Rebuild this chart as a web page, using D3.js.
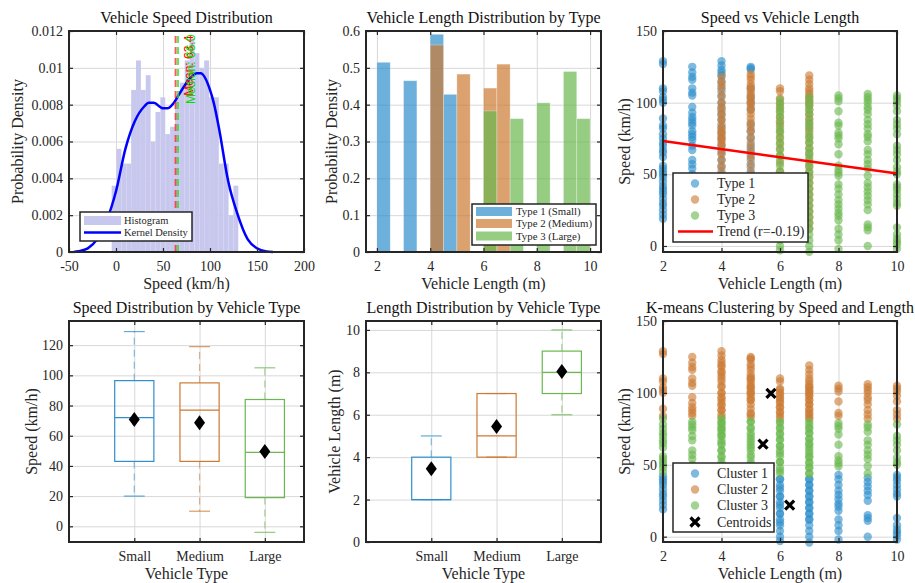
<!DOCTYPE html>
<html><head><meta charset="utf-8">
<script src="https://cdn.jsdelivr.net/npm/d3@7"></script>
<style>
body{margin:0;background:#fff;}
svg{display:block;}
</style>
</head><body>
<svg id="c" width="915" height="583"></svg>
<script>
// ---------------- DATA ----------------
// Panel 1: speed histogram (density) + kernel density
const speedHistStart = -4.6;
const speedHistBinWidth = 5.18;
const speedHistDensity = [0.0036,0.0056,0.0048,0.0048,0.0088,0.0104,0.0088,0.0096,0.0060,0.0076,0.0084,0.0064,0.0068,0.0084,0.0092,0.0104,0.0116,0.0108,0.0100,0.0104,0.0084,0.0084,0.0048,0.0048,0.0020,0.0036];
const kdeSpeed   = [-45,-40,-30,-20,-10,0,10,20,30,35,40,50,55,60,70,80,86,90,100,104,110,118,120,129,140,150,160,167];
const kdeDensity = [0,0.00004,0.0002,0.0007,0.0017,0.0033,0.0056,0.0071,0.0079,0.0081,0.0081,0.0078,0.0078,0.0080,0.0088,0.0095,0.0097,0.0097,0.0088,0.0081,0.0066,0.0042,0.0037,0.0021,0.0007,0.0002,0.00003,0];
const speedMean = 63.4, speedMedian = 66.0;

// Panel 2: vehicle length histograms by type
const lengthBinWidth = 0.5;
const type1BinStarts = [2,3,4,4.5];      const type1Density = [0.515,0.465,0.591,0.428];
const type2BinStarts = [4,5,6,6.5];      const type2Density = [0.562,0.483,0.445,0.510];
const type3BinStarts = [6,7,8,9,9.5];    const type3Density = [0.383,0.362,0.405,0.490,0.362];

// Panels 3 & 6: speed vs length (per type, per length)
const type1Lengths = [2,3,4,5];
const type1Speeds = [
  [129,127,110,108,104,102,100,89,84,82,78,75,72,70,67,65,62,56,54,52,50,48,45,42,40,38,36,33,30,28,25,22,19],
  [125,121,118,116,110,107,105,97,93,90,88,86,84,80,78,76,74,70,67,60,57,54,50,47,43,38,33,28,24,21],
  [129,126,123,121,119,115,110,105,100,96,92,88,83,79,75,70,65,60,55,50,45,40,35,30,25,21],
  [125,124,123,110,104,100,95,85,80,75,70,66,62,57,52,48,44,40,35,30,25,22]
];
const type2Lengths = [4,5,6,7];
const type2Speeds = [
  [118,114,112,108,104,100,97,94,91,88,85,82,80,78,76,74,72,70,67,64,60,56,52,48,44,40,35,30,25,20,15,12],
  [120,118,116,113,111,109,107,105,103,101,99,97,95,92,89,86,83,80,76,72,68,64,60,55,50,45,40,35,28,20,14],
  [110,108,103,100,97,94,90,87,84,80,76,72,68,63,58,52,46,40,34,28,22,16,10],
  [119,116,113,110,108,106,104,102,100,98,95,92,89,86,83,80,76,72,68,64,60,56,52,48,44,40,36,32,28,24,20,16,12]
];
const type3Lengths = [6,7,8,9,10];
const type3Speeds = [
  [102,99,96,93,90,86,82,79,75,71,67,63,60,56,52,48,44,40,36,32,28,24,20,16,12,8,4,0,-3],
  [104,101,98,95,92,88,85,82,78,75,72,68,65,62,58,55,51,48,44,40,36,32,28,24,20,16,12,8,4,0,-4],
  [105,103,101,94,86,84,79,77,75,71,64,56,53,51,49,43,40,36,32,29,26,23,21,18,12,8,4,-2],
  [106,104,102,100,97,95,92,88,85,82,78,76,73,67,64,60,57,54,49,44,41,38,35,32,29,25,15,13,11,0],
  [105,103,101,98,94,88,85,82,78,70,67,64,60,55,52,50,43,41,39,36,33,30,28,13,8,5,3,1,-2]
];
const trendLength = [2,10];
const trendSpeed  = [73.2,50.5];
const trendR = -0.19;
// K-means centroids (cluster 1,2,3)
const centroidLength = [6.33,5.69,5.42];
const centroidSpeed  = [22.0,99.7,64.3];

// Panels 4 & 5: box plots
const boxCategories = ["Small","Medium","Large"];
const speedQ1 = [43,43,19],  speedMed = [72,77,49],  speedQ3 = [96.5,95,84];
const speedWLo = [20,10,-4], speedWHi = [129,119,105], speedMeans = [70.8,68.6,49.6];
const lenQ1 = [2,4,7], lenMed = [2,5,8], lenQ3 = [4,7,9];
const lenWLo = [2,4,6], lenWHi = [5,7,10], lenMeans = [3.45,5.45,8.04];

// ---------------- DRAWING ----------------
const svg = d3.select("#c");
const COL = {blue:"#2E8FCC", orange:"#CC7A33", green:"#6AB84F"};
const typeCols = [COL.blue, COL.orange, COL.green];
const SERIF = "'Liberation Serif','Times New Roman',serif";
const SANS = "'Liberation Sans',Arial,sans-serif";
const INK = "#262626";

function makePanel(b, xd, yd, xt, yt, xfmt, yfmt){
  const x = d3.scaleLinear().domain(xd).range([b.l,b.r]);
  const y = d3.scaleLinear().domain(yd).range([b.b,b.t]);
  const g = svg.append("g");
  const w=b.r-b.l, h=b.b-b.t;
  g.append("g").attr("transform",`translate(0,${b.b})`)
    .call(d3.axisBottom(x).tickValues(xt).tickSize(-h).tickFormat(""))
    .call(s=>{s.select(".domain").remove(); s.selectAll("line").attr("stroke","#d8d8d8").attr("stroke-width",1);});
  g.append("g").attr("transform",`translate(${b.l},0)`)
    .call(d3.axisLeft(y).tickValues(yt).tickSize(-w).tickFormat(""))
    .call(s=>{s.select(".domain").remove(); s.selectAll("line").attr("stroke","#d8d8d8").attr("stroke-width",1);});
  const content = g.append("g");
  return {x,y,g,content,b,xt,yt,xfmt,yfmt};
}
function styleAxis(s){
  s.select(".domain").remove();
  s.selectAll("line").attr("stroke",INK).attr("stroke-width",1.2);
  s.selectAll("text").style("font-family",SERIF).style("font-size","14px").attr("fill",INK);
}
function finishPanel(p, title, xlabel, ylabel, ylabOff){
  const {x,y,g,b}=p;
  const top = g.append("g");
  top.append("rect").attr("x",b.l).attr("y",b.t).attr("width",b.r-b.l).attr("height",b.b-b.t)
    .attr("fill","none").attr("stroke",INK).attr("stroke-width",2);
  top.append("g").attr("transform",`translate(0,${b.b})`)
    .call(d3.axisBottom(x).tickValues(p.xt).tickSize(-4).tickPadding(9).tickFormat(p.xfmt)).call(styleAxis);
  top.append("g").attr("transform",`translate(0,${b.t})`)
    .call(d3.axisTop(x).tickValues(p.xt).tickSize(-4).tickFormat("")).call(styleAxis);
  top.append("g").attr("transform",`translate(${b.l},0)`)
    .call(d3.axisLeft(y).tickValues(p.yt).tickSize(-4).tickPadding(6).tickFormat(p.yfmt)).call(styleAxis);
  top.append("g").attr("transform",`translate(${b.r},0)`)
    .call(d3.axisRight(y).tickValues(p.yt).tickSize(-4).tickFormat("")).call(styleAxis);
  const cx=(b.l+b.r)/2, cy=(b.t+b.b)/2;
  top.append("text").attr("x",cx).attr("y",b.t-8).attr("text-anchor","middle")
    .style("font-family",SERIF).style("font-size","16px").attr("fill","#111").text(title);
  top.append("text").attr("x",cx).attr("y",b.b+37).attr("text-anchor","middle")
    .style("font-family",SERIF).style("font-size","16px").attr("fill",INK).text(xlabel);
  top.append("text").attr("transform",`translate(${b.l-ylabOff},${cy}) rotate(-90)`).attr("text-anchor","middle")
    .style("font-family",SERIF).style("font-size","16px").attr("fill",INK).text(ylabel);
}
function legendBox(g, x0,y0,x1,y1){
  g.append("rect").attr("x",x0).attr("y",y0).attr("width",x1-x0).attr("height",y1-y0)
    .attr("fill","#fff").attr("stroke",INK).attr("stroke-width",1.5);
}
function legText(g,x,y,t,size){
  g.append("text").attr("x",x).attr("y",y).attr("dy","0.35em")
    .style("font-family",SERIF).style("font-size",size+"px").attr("fill",INK).text(t);
}

// ===== Panel 1 =====
{
  const p = makePanel({l:69,r:304,t:31,b:252},[-50,200],[0,0.012],
    [-50,0,50,100,150,200],[0,0.002,0.004,0.006,0.008,0.01,0.012],
    d=>String(d), d=>String(+d.toFixed(3)));
  const {x,y,content}=p;
  content.selectAll("rect.h").data(speedHistDensity).join("rect")
    .attr("x",(d,i)=>x(speedHistStart+i*speedHistBinWidth))
    .attr("width",(d,i)=>x(speedHistStart+(i+1)*speedHistBinWidth)-x(speedHistStart+i*speedHistBinWidth))
    .attr("y",d=>y(d)).attr("height",d=>y(0)-y(d)).attr("fill","#C8C8EE");
  const kde = kdeSpeed.map((s,i)=>[s,kdeDensity[i]]);
  content.append("path").datum(kde)
    .attr("d",d3.line().x(d=>x(d[0])).y(d=>y(d[1])).curve(d3.curveMonotoneX))
    .attr("fill","none").attr("stroke","#0000FF").attr("stroke-width",2.5);
  content.append("line").attr("x1",x(speedMean)).attr("x2",x(speedMean)).attr("y1",y(0)).attr("y2",y(0.012))
    .attr("stroke","#FF2020").attr("stroke-opacity",0.75).attr("stroke-width",2).attr("stroke-dasharray","7,4");
  content.append("line").attr("x1",x(speedMedian)).attr("x2",x(speedMedian)).attr("y1",y(0)).attr("y2",y(0.012))
    .attr("stroke","#20E020").attr("stroke-opacity",0.75).attr("stroke-width",2).attr("stroke-dasharray","7,4");
  content.append("text").attr("transform",`translate(${x(speedMean)+17.5},${y(0.01175)}) rotate(-90)`)
    .attr("text-anchor","end").style("font-family",SANS).style("font-size","12px").attr("fill","#FF0000")
    .text(`Mean: ${speedMean.toFixed(1)}`);
  content.append("text").attr("transform",`translate(${x(speedMedian)+17},${y(0.0118)}) rotate(-90)`)
    .attr("text-anchor","end").style("font-family",SANS).style("font-size","12px").attr("fill","#00DD00")
    .text(`Median: ${speedMedian.toFixed(1)}`);
  finishPanel(p,"Vehicle Speed Distribution","Speed (km/h)","Probability Density",46);
  const lg = p.g.append("g");
  legendBox(lg,80,212,192,241);
  lg.append("rect").attr("x",84).attr("y",216).attr("width",37).attr("height",9).attr("fill","#C8C8EE");
  lg.append("line").attr("x1",84).attr("x2",121).attr("y1",232.5).attr("y2",232.5).attr("stroke","#0000FF").attr("stroke-width",2.5);
  legText(lg,124,220.5,"Histogram",10.5);
  legText(lg,124,232.5,"Kernel Density",10.5);
}

// ===== Panel 2 =====
{
  const p = makePanel({l:366,r:601,t:31,b:252},[1.59,10.41],[0,0.6],
    [2,4,6,8,10],[0,0.1,0.2,0.3,0.4,0.5,0.6], d=>String(d), d=>String(d));
  const {x,y,content}=p;
  const sets = [[type1BinStarts,type1Density,COL.blue],[type2BinStarts,type2Density,COL.orange],[type3BinStarts,type3Density,COL.green]];
  sets.forEach(([st,den,c])=>{
    content.append("g").selectAll("rect").data(den).join("rect")
      .attr("x",(d,i)=>x(st[i])).attr("width",(d,i)=>x(st[i]+lengthBinWidth)-x(st[i]))
      .attr("y",d=>y(d)).attr("height",d=>y(0)-y(d))
      .attr("fill",c).attr("fill-opacity",0.7).attr("stroke","#fff").attr("stroke-opacity",0.35).attr("stroke-width",0.8);
  });
  finishPanel(p,"Vehicle Length Distribution by Type","Vehicle Length (m)","Probability Density",29);
  const lg = p.g.append("g");
  legendBox(lg,472,204,596,245);
  const labs=["Type 1 (Small)","Type 2 (Medium)","Type 3 (Large)"];
  [211.5,223.5,236].forEach((yy,i)=>{
    lg.append("rect").attr("x",476).attr("y",yy-4.5).attr("width",36).attr("height",9).attr("fill",typeCols[i]).attr("fill-opacity",0.7);
    legText(lg,516,yy,labs[i],10.8);
  });
}

// scatter points (shared)
function buildPoints(lengths, speeds, type){
  const out=[];
  lengths.forEach((L,i)=>speeds[i].forEach(s=>out.push({len:L,speed:s,type})));
  return out;
}
const pts1 = buildPoints(type1Lengths,type1Speeds,0);
const pts2 = buildPoints(type2Lengths,type2Speeds,1);
const pts3 = buildPoints(type3Lengths,type3Speeds,2);
const allPts = pts1.concat(pts2,pts3);
allPts.forEach(p=>{
  let best=0,bd=Infinity;
  centroidLength.forEach((cl,k)=>{const d=(p.len-cl)**2+(p.speed-centroidSpeed[k])**2; if(d<bd){bd=d;best=k;}});
  p.cluster=best;
});
const R=4.2;

// ===== Panel 3 =====
{
  const p = makePanel({l:663,r:897,t:31,b:252},[2,10],[-4.2,150],
    [2,4,6,8,10],[0,50,100,150], d=>String(d), d=>String(d));
  const {x,y,content}=p;
  [pts1,pts2,pts3].forEach((arr,t)=>{
    content.append("g").selectAll("circle").data(arr).join("circle")
      .attr("cx",d=>x(d.len)).attr("cy",d=>y(d.speed)).attr("r",R)
      .attr("fill",typeCols[t]).attr("fill-opacity",0.62);
  });
  content.append("path").datum(trendLength.map((l,i)=>[l,trendSpeed[i]]))
    .attr("d",d3.line().x(d=>x(d[0])).y(d=>y(d[1])))
    .attr("stroke","#FF0000").attr("stroke-width",2.5).attr("fill","none");
  finishPanel(p,"Speed vs Vehicle Length","Vehicle Length (m)","Speed (km/h)",33);
  const lg = p.g.append("g");
  legendBox(lg,673,173,808,242);
  ["Type 1","Type 2","Type 3"].forEach((t,i)=>{
    const yy=183.5+i*16;
    lg.append("circle").attr("cx",695).attr("cy",yy).attr("r",R).attr("fill",typeCols[i]).attr("fill-opacity",0.62);
    legText(lg,717,yy,t,14);
  });
  lg.append("line").attr("x1",678).attr("x2",713).attr("y1",231.5).attr("y2",231.5).attr("stroke","#FF0000").attr("stroke-width",2.5);
  legText(lg,717,231.5,`Trend (r=${trendR.toFixed(2)})`,14);
}

// ===== Box plot helper =====
function drawBoxes(p, q1,med,q3,wlo,whi,means){
  const {x,y,content}=p;
  boxCategories.forEach((c,i)=>{
    const cx=i+1, col=typeCols[i];
    const g=content.append("g");
    g.append("line").attr("x1",x(cx)).attr("x2",x(cx)).attr("y1",y(q3[i])).attr("y2",y(whi[i]))
      .attr("stroke",col).attr("stroke-opacity",0.55).attr("stroke-width",1.2).attr("stroke-dasharray","7,5");
    g.append("line").attr("x1",x(cx)).attr("x2",x(cx)).attr("y1",y(q1[i])).attr("y2",y(wlo[i]))
      .attr("stroke",col).attr("stroke-opacity",0.55).attr("stroke-width",1.2).attr("stroke-dasharray","7,5");
    [wlo[i],whi[i]].forEach(v=>g.append("line").attr("x1",x(cx-0.16)).attr("x2",x(cx+0.16)).attr("y1",y(v)).attr("y2",y(v))
      .attr("stroke",col).attr("stroke-opacity",0.75).attr("stroke-width",1.2));
    g.append("rect").attr("x",x(cx-0.3)).attr("width",x(cx+0.3)-x(cx-0.3))
      .attr("y",y(q3[i])).attr("height",y(q1[i])-y(q3[i]))
      .attr("fill","none").attr("stroke",col).attr("stroke-width",1.2);
    g.append("line").attr("x1",x(cx-0.3)).attr("x2",x(cx+0.3)).attr("y1",y(med[i])).attr("y2",y(med[i]))
      .attr("stroke",col).attr("stroke-width",1.2);
    const mx=x(cx), my=y(means[i]);
    g.append("path").attr("d",`M${mx},${my-7.5}L${mx+5.5},${my}L${mx},${my+7.5}L${mx-5.5},${my}Z`).attr("fill","#000");
  });
}

// ===== Panel 4 =====
{
  const p = makePanel({l:69,r:304,t:321,b:542},[0,3.6],[-10.4,136],
    [1,2,3],[0,20,40,60,80,100,120], d=>boxCategories[d-1], d=>String(d));
  drawBoxes(p,speedQ1,speedMed,speedQ3,speedWLo,speedWHi,speedMeans);
  finishPanel(p,"Speed Distribution by Vehicle Type","Vehicle Type","Speed (km/h)",32);
}
// ===== Panel 5 =====
{
  const p = makePanel({l:366,r:601,t:321,b:542},[0,3.6],[0,10.42],
    [1,2,3],[0,2,4,6,8,10], d=>boxCategories[d-1], d=>String(d));
  drawBoxes(p,lenQ1,lenMed,lenQ3,lenWLo,lenWHi,lenMeans);
  finishPanel(p,"Length Distribution by Vehicle Type","Vehicle Type","Vehicle Length (m)",26);
}
// ===== Panel 6 =====
{
  const p = makePanel({l:663,r:897,t:321,b:542},[2,10],[-3.7,150],
    [2,4,6,8,10],[0,50,100,150], d=>String(d), d=>String(d));
  const {x,y,content}=p;
  [0,1,2].forEach(k=>{
    content.append("g").selectAll("circle").data(allPts.filter(d=>d.cluster===k)).join("circle")
      .attr("cx",d=>x(d.len)).attr("cy",d=>y(d.speed)).attr("r",R)
      .attr("fill",typeCols[k]).attr("fill-opacity",0.62);
  });
  const X = (g,cx,cy)=>g.append("path").attr("d",`M${cx-4.5},${cy-4.5}L${cx+4.5},${cy+4.5}M${cx-4.5},${cy+4.5}L${cx+4.5},${cy-4.5}`)
      .attr("stroke","#000").attr("stroke-width",3.2);
  centroidLength.forEach((cl,k)=>X(content,x(cl),y(centroidSpeed[k])));
  finishPanel(p,"K-means Clustering by Speed and Length","Vehicle Length (m)","Speed (km/h)",33);
  const lg = p.g.append("g");
  legendBox(lg,673,463,774,532);
  ["Cluster 1","Cluster 2","Cluster 3"].forEach((t,i)=>{
    const yy=473.5+i*16;
    lg.append("circle").attr("cx",695).attr("cy",yy).attr("r",R).attr("fill",typeCols[i]).attr("fill-opacity",0.62);
    legText(lg,717,yy,t,14);
  });
  X(lg,695,522);
  legText(lg,717,522,"Centroids",14);
}
</script>
</body></html>
